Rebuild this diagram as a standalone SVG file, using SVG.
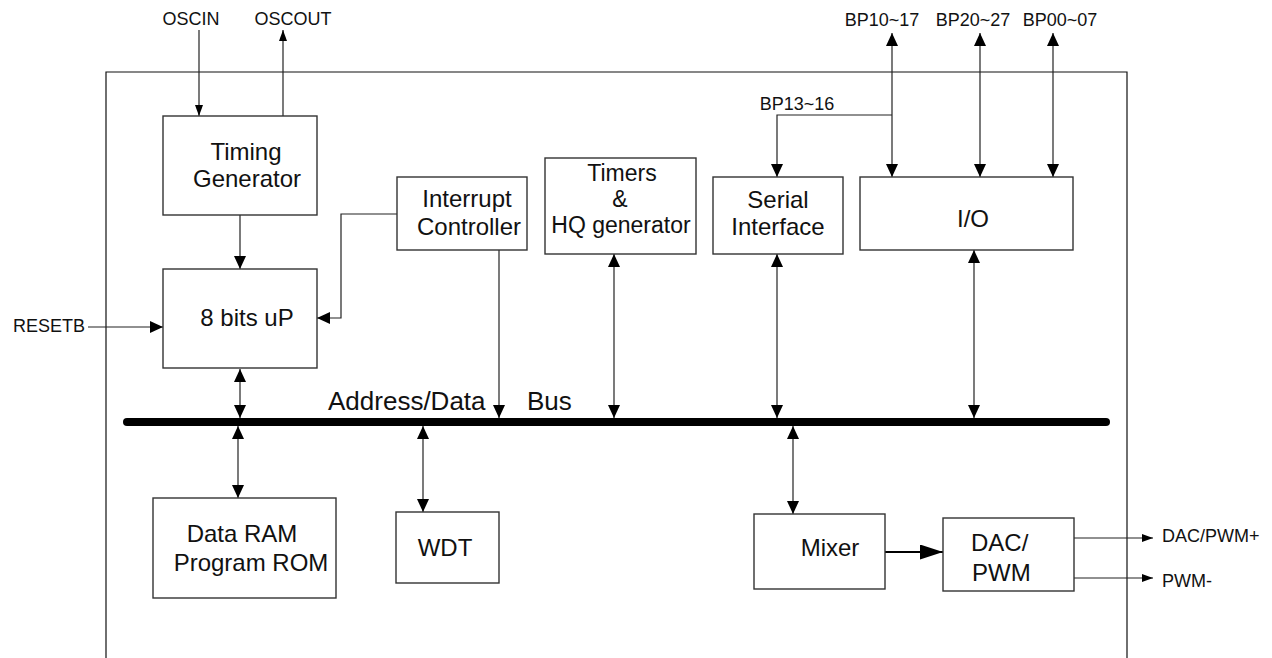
<svg xmlns="http://www.w3.org/2000/svg" width="1272" height="658" viewBox="0 0 1272 658">
<defs>
<style>
.box{fill:#fff;stroke:#333;stroke-width:1.4}
.lbl{font-family:"Liberation Sans",Arial,sans-serif;font-size:24px;fill:#111;text-anchor:middle}
.sm{font-size:23px}
.st{text-anchor:start}
.lbls{font-family:"Liberation Sans",Arial,sans-serif;font-size:18px;fill:#111}
.mid{text-anchor:middle}
.end{text-anchor:end}
.bus{font-family:"Liberation Sans",Arial,sans-serif;font-size:26px;fill:#111}
.c{fill:none;stroke:#222;stroke-width:1.2}
.a{marker-end:url(#ah)}
.ab{marker-start:url(#ah);marker-end:url(#ah)}
</style>
<marker id="ah" markerUnits="userSpaceOnUse" markerWidth="13" markerHeight="12" refX="13" refY="6" orient="auto-start-reverse" viewBox="0 0 13 12"><path d="M0,0 L13,6 L0,12 z" fill="#000"/></marker>
<marker id="as" markerUnits="userSpaceOnUse" markerWidth="11" markerHeight="8" refX="11" refY="4" orient="auto-start-reverse" viewBox="0 0 11 8"><path d="M0,0 L11,4 L0,8 z" fill="#000"/></marker>
<marker id="ab" markerUnits="userSpaceOnUse" markerWidth="23" markerHeight="15" refX="23" refY="7.5" orient="auto" viewBox="0 0 23 15"><path d="M0,0 L23,7.5 L0,15 z" fill="#000"/></marker>
</defs>
<rect width="1272" height="658" fill="#fff"/>
<g id="frame"><path d="M106,660 V72 H1127 V660" fill="none" stroke="#111" stroke-width="1.2"/></g>

<g id="connectors">
<line x1="127" y1="422" x2="1106" y2="422" stroke="#000" stroke-width="8" stroke-linecap="round"/>
<line class="c" x1="199" y1="30" x2="199" y2="116" marker-end="url(#as)"/>
<line class="c" x1="283" y1="116" x2="283" y2="30" marker-end="url(#as)"/>
<line class="c a" x1="240" y1="215" x2="240" y2="269"/>
<line class="c a" x1="88" y1="327" x2="163" y2="327"/>
<path class="c a" d="M397,214 H341 V318 H317"/>
<line class="c ab" x1="240" y1="369" x2="240" y2="418"/>
<line class="c ab" x1="238" y1="426" x2="238" y2="498"/>
<line class="c a" x1="499" y1="250" x2="499" y2="418"/>
<line class="c ab" x1="614" y1="254" x2="614" y2="418"/>
<line class="c ab" x1="777" y1="254" x2="777" y2="418"/>
<line class="c ab" x1="974" y1="250" x2="974" y2="418"/>
<line class="c ab" x1="423" y1="426" x2="423" y2="512"/>
<line class="c ab" x1="793" y1="426" x2="793" y2="514"/>
<line class="c ab" x1="892" y1="33" x2="892" y2="177"/>
<line class="c ab" x1="980" y1="33" x2="980" y2="177"/>
<line class="c ab" x1="1053" y1="33" x2="1053" y2="177"/>
<path class="c a" d="M892,115 H777 V177"/>
<line x1="885" y1="552" x2="943" y2="552" stroke="#000" stroke-width="2" marker-end="url(#ab)"/>
<line class="c" x1="1074" y1="538" x2="1153" y2="538" marker-end="url(#as)"/>
<line class="c" x1="1074" y1="578" x2="1153" y2="578" marker-end="url(#as)"/>
</g>

<g id="labels">
<text class="lbls mid" x="191" y="25">OSCIN</text>
<text class="lbls mid" x="293" y="25">OSCOUT</text>
<text class="lbls mid" x="882" y="26">BP10~17</text>
<text class="lbls mid" x="973" y="26">BP20~27</text>
<text class="lbls mid" x="1060" y="26">BP00~07</text>
<text class="lbls mid" x="797" y="110">BP13~16</text>
<text class="lbls end" x="85" y="332">RESETB</text>
<text class="lbls" x="1162" y="542">DAC/PWM+</text>
<text class="lbls" x="1162" y="587">PWM-</text>
<text class="bus" x="328" y="410">Address/Data</text>
<text class="bus" x="527" y="410">Bus</text>
</g>

<g id="timing"><rect class="box" x="163" y="116" width="154" height="99"/><text class="lbl" x="246" y="160">Timing</text><text class="lbl" x="247" y="187">Generator</text></g>
<g id="interrupt"><rect class="box" x="397" y="177" width="130" height="73"/><text class="lbl" x="467" y="207">Interrupt</text><text class="lbl" x="469" y="235">Controller</text></g>
<g id="timers"><rect class="box" x="545" y="158" width="151" height="96"/><text class="lbl sm" x="622" y="181">Timers</text><text class="lbl sm" x="620" y="207">&amp;</text><text class="lbl sm" x="621" y="233">HQ generator</text></g>
<g id="serial"><rect class="box" x="713" y="177" width="130" height="77"/><text class="lbl" x="778" y="208">Serial</text><text class="lbl" x="778" y="235">Interface</text></g>
<g id="io"><rect class="box" x="860" y="177" width="213" height="73"/><text class="lbl" x="973" y="227">I/O</text></g>
<g id="up"><rect class="box" x="163" y="269" width="154" height="99"/><text class="lbl" x="247" y="326">8 bits uP</text></g>
<g id="ram"><rect class="box" x="153" y="498" width="183" height="100"/><text class="lbl" x="242" y="542">Data RAM</text><text class="lbl" x="251" y="571">Program ROM</text></g>
<g id="wdt"><rect class="box" x="396" y="512" width="103" height="71"/><text class="lbl" x="445" y="556">WDT</text></g>
<g id="mixer"><rect class="box" x="754" y="514" width="131" height="75"/><text class="lbl" x="830" y="556">Mixer</text></g>
<g id="dac"><rect class="box" x="943" y="518" width="131" height="73"/><text class="lbl st" x="971" y="551">DAC/</text><text class="lbl st" x="972" y="581">PWM</text></g>
</svg>
